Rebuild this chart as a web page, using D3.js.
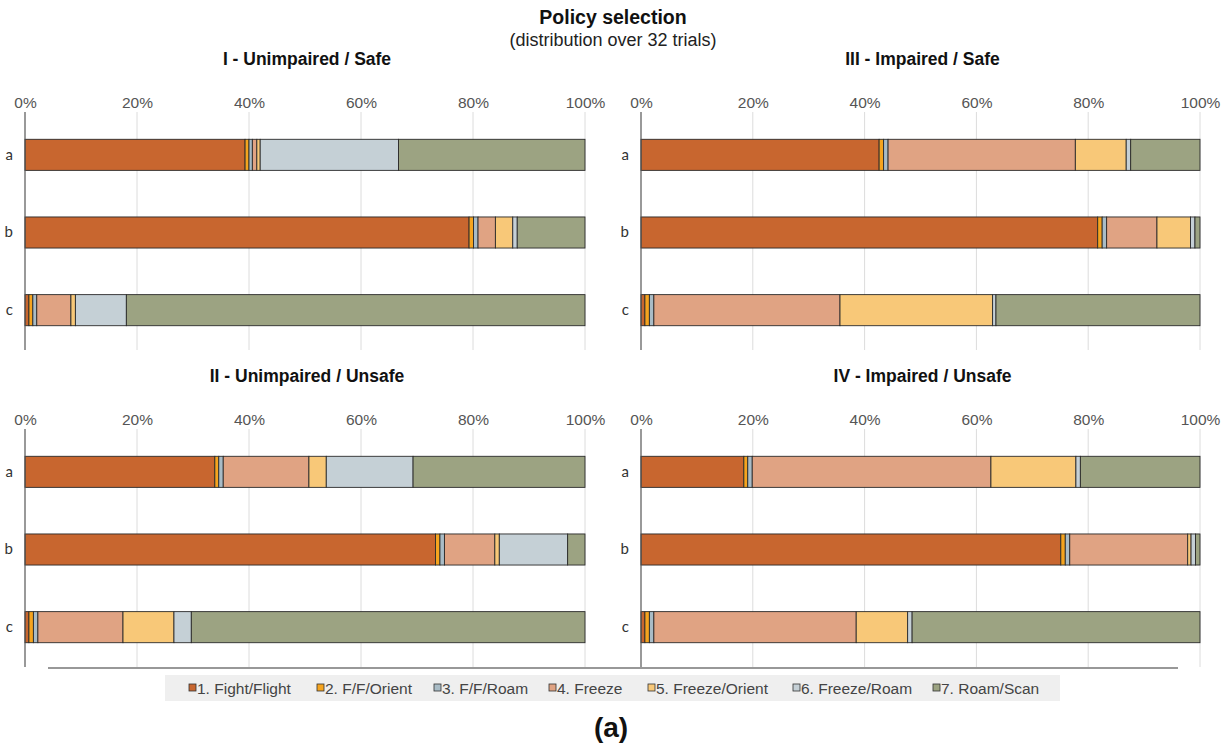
<!DOCTYPE html>
<html><head><meta charset="utf-8">
<script src="https://cdn.jsdelivr.net/npm/d3@7"></script>
<style>body{margin:0;background:#fff}svg{display:block}</style>
</head><body>
<script>
const policies = ["1. Fight/Flight","2. F/F/Orient","3. F/F/Roam","4. Freeze","5. Freeze/Orient","6. Freeze/Roam","7. Roam/Scan"];
const colors = ["#c8662f","#f5a41f","#a9bcc6","#e0a383","#f8c878","#c5d0d6","#9ca382"];
const rows = ["a","b","c"];
const ticks = [0,0.2,0.4,0.6,0.8,1.0];
const panelTitles = ["I - Unimpaired / Safe","III - Impaired / Safe","II - Unimpaired / Unsafe","IV - Impaired / Unsafe"];
// values in % per row (a,b,c) for each policy
const panelI   = [[39.3,0.7,0.6,0.8,0.6,24.7,33.3],[79.3,0.8,0.8,3.1,3.1,0.8,12.1],[0.7,0.7,0.7,6.1,0.8,9.1,81.9]];
const panelIII = [[42.6,0.8,0.8,33.5,9.1,0.8,12.4],[81.7,0.8,0.8,9.0,6.0,0.8,0.9],[0.7,0.8,0.8,33.3,27.3,0.6,36.5]];
const panelII  = [[33.9,0.7,0.8,15.3,3.1,15.5,30.7],[73.3,0.8,0.8,9.0,0.8,12.2,3.1],[0.7,0.8,0.8,15.2,9.1,3.1,70.3]];
const panelIV  = [[18.4,0.7,0.8,42.7,15.2,0.8,21.4],[75.1,0.8,0.8,21.1,0.6,0.8,0.8],[0.7,0.8,0.8,36.2,9.2,0.8,51.5]];
const panelData = [panelI, panelIII, panelII, panelIV];

const W=1231,H=746;
const svg=d3.select("body").append("svg").attr("width",W).attr("height",H);
const sans="'Liberation Sans', Arial, Helvetica, sans-serif";

svg.append("text").attr("x",613).attr("y",24).attr("text-anchor","middle")
  .attr("font-family",sans).attr("font-weight","bold").attr("font-size",19.5).attr("fill","#111").text("Policy selection");
svg.append("text").attr("x",613).attr("y",46).attr("text-anchor","middle")
  .attr("font-family",sans).attr("font-size",18).attr("fill","#222").text("(distribution over 32 trials)");

const layout=[
  {x0:25,x1:585,top:0},
  {x0:641,x1:1200,top:0},
  {x0:25,x1:585,top:317},
  {x0:641,x1:1200,top:317}
];

layout.forEach((L,pi)=>{
  const g=svg.append("g");
  const x=d3.scaleLinear().domain([0,1]).range([L.x0,L.x1]);
  const y=d3.scaleBand().domain(rows).range([L.top+116,L.top+349]).paddingInner(0.6).paddingOuter(0.3);
  g.append("text").attr("x",(L.x0+L.x1)/2+2).attr("y",L.top+65).attr("text-anchor","middle")
    .attr("font-family",sans).attr("font-weight","bold").attr("font-size",17.5).attr("fill","#111").text(panelTitles[pi]);
  // grid
  g.selectAll(".grid").data(ticks.slice(1)).join("line")
    .attr("x1",d=>x(d)).attr("x2",d=>x(d)).attr("y1",L.top+112).attr("y2",L.top+350)
    .attr("stroke","#dcdcdc").attr("stroke-width",1);
  // tick labels via axis
  const ax=g.append("g").attr("transform",`translate(0,${L.top+108})`)
    .call(d3.axisTop(x).tickValues(ticks).tickFormat(d3.format(".0%")).tickSize(0).tickPadding(0));
  ax.select(".domain").remove();
  ax.selectAll("text").attr("font-family",sans).attr("font-size",15.5).attr("fill","#555");
  // bars
  const data=panelData[pi];
  data.forEach((vals,ri)=>{
    const tot=d3.sum(vals);
    let cum=0;
    const segs=vals.map((v,k)=>{const s={k,a:cum/tot,b:(cum+v)/tot};cum+=v;return s;});
    g.selectAll(".seg"+ri).data(segs).join("rect")
      .attr("x",d=>x(d.a)).attr("width",d=>x(d.b)-x(d.a))
      .attr("y",y(rows[ri])).attr("height",y.bandwidth())
      .attr("fill",d=>colors[d.k]).attr("stroke","#2a2a2a").attr("stroke-width",0.9);
  });
  // category axis
  const ay=g.append("g").attr("transform",`translate(${L.x0},0)`)
    .call(d3.axisLeft(y).tickSize(0).tickPadding(12));
  ay.select(".domain").remove();
  ay.selectAll("text").attr("font-family","Lato, 'Open Sans', sans-serif").attr("font-size",15).attr("fill","#333");
  g.append("line").attr("x1",L.x0).attr("x2",L.x0).attr("y1",L.top+112).attr("y2",L.top+350)
    .attr("stroke","#555").attr("stroke-width",1.2);
});

// bottom line
svg.append("line").attr("x1",48).attr("x2",1178).attr("y1",668).attr("y2",668).attr("stroke","#333").attr("stroke-width",1.2);

// legend
svg.append("rect").attr("x",165).attr("y",675).attr("width",895).attr("height",26).attr("fill","#efefef");
const legX=[189,317,434,549,648,793,933];
const lg=svg.selectAll(".leg").data(policies).join("g").attr("transform",(d,i)=>`translate(${legX[i]},688)`);
lg.append("rect").attr("x",0).attr("y",-4).attr("width",7).attr("height",7)
  .attr("fill",(d,i)=>colors[i]).attr("stroke","#333").attr("stroke-width",0.8);
lg.append("text").attr("x",8).attr("y",5.5).attr("font-family",sans).attr("font-size",15.5).attr("fill","#444").text(d=>d);

svg.append("text").attr("x",611).attr("y",737).attr("text-anchor","middle")
  .attr("font-family",sans).attr("font-weight","bold").attr("font-size",28).attr("fill","#111").text("(a)");
</script>
</body></html>
